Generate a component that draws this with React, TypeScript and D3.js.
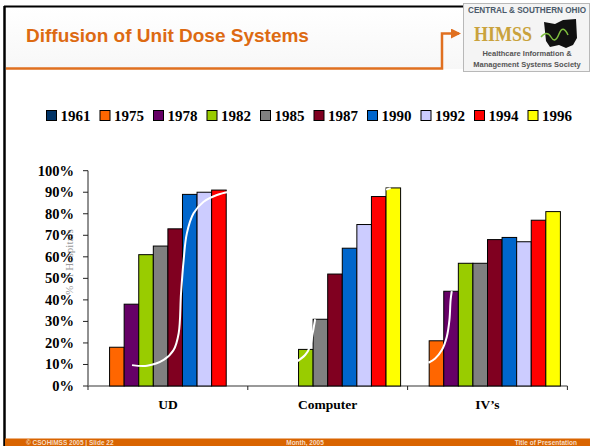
import React from "react";
import * as d3 from "d3";

const categories = ["UD", "Computer", "IV\u2019s"];
const years = ["1961", "1975", "1978", "1982", "1985", "1987", "1990", "1992", "1994", "1996"];
const colors = ["#003366", "#FF6600", "#660066", "#99CC00", "#808080", "#800020", "#0066CC", "#CCCCFF", "#FF0000", "#FFFF00"];
const udValues = [null, 18, 38, 61, 65, 73, 89, 90, 91, null];
const computerValues = [null, null, null, 17, 31, 52, 64, 75, 88, 92];
const ivValues = [null, 21, 44, 57, 57, 68, 69, 67, 77, 81];
const seriesValues = [udValues, computerValues, ivValues];
const yTicks = [0, 10, 20, 30, 40, 50, 60, 70, 80, 90, 100];

// white diffusion curves: [slot position within group (bar units), percent]
const udCurve: [number, number][] = [[2.54, 9.7], [3.57, 9.4], [4.71, 12.1], [5.39, 16.7], [5.74, 24.5], [5.9, 43], [6.08, 58.5], [6.3, 70.9], [6.76, 80.2], [7.45, 85.6], [8.36, 88.7], [9.23, 90.2]];
const computerCurveA: [number, number][] = [[2.88, 11.3], [3.45, 14.4], [3.79, 18.3], [3.97, 24.5], [4.14, 31]];
const computerCurveB: [number, number][] = [[9.0, 91.2], [9.32, 91.9]];
const ivCurve: [number, number][] = [[0.95, 10.8], [1.41, 12.8], [1.87, 16.7], [2.21, 22.9], [2.39, 30.7], [2.47, 40], [2.55, 44.1]];
const curves: { cat: number; pts: [number, number][] }[] = [
  { cat: 0, pts: udCurve },
  { cat: 1, pts: computerCurveA },
  { cat: 1, pts: computerCurveB },
  { cat: 2, pts: ivCurve },
];

const W = 590, H = 446;
const serif = "'Liberation Serif', 'Times New Roman', serif";
const sans = "'Liberation Sans', Arial, sans-serif";

export default function App() {
  const x0 = d3.scaleBand<string>().domain(categories).range([88, 567.4]).padding(0);
  const inner = 7;
  const x1 = d3.scaleBand<string>().domain(years).range([inner, x0.bandwidth() - inner]).padding(0);
  const slot = d3.scaleLinear().domain([0, years.length]).range([inner, x0.bandwidth() - inner]);
  const y = d3.scaleLinear().domain([0, 100]).range([386, 170.7]);
  const line = d3.line<[number, number]>().curve(d3.curveCatmullRom.alpha(0.5));

  const legendX = (i: number) => 46 + i * 53.5;

  return (
    <svg width={W} height={H} style={{ position: "absolute", left: 0, top: 0, background: "#fff" }}>
      <defs>
        <linearGradient id="hdr" x1="0" y1="0" x2="0" y2="1">
          <stop offset="0" stopColor="#ffffff" />
          <stop offset="1" stopColor="#f7f7f7" />
        </linearGradient>
        <marker id="arr" viewBox="0 0 10 10" refX="8" refY="5" markerWidth="4" markerHeight="4" orient="auto">
          <path d="M0,0 L10,5 L0,10 z" fill="#E07020" />
        </marker>
      </defs>
      <rect x={0} y={0} width={W} height={H} fill="#fff" />
      <rect x={5} y={7} width={W - 5} height={62} fill="url(#hdr)" />
      {/* frame */}
      <line x1={4.5} y1={6} x2={4.5} y2={H} stroke="#000" strokeWidth={2.5} />
      <line x1={4} y1={6.5} x2={W} y2={6.5} stroke="#000" strokeWidth={2} />
      {/* title */}
      <text x={26} y={41.5} fontFamily={sans} fontWeight="bold" fontSize={19} fill="#DD6A12">
        Diffusion of Unit Dose Systems
      </text>
      {/* connector */}
      <path d="M6,68.5 H442 V33.5 H459" fill="none" stroke="#E07020" strokeWidth={2.5} markerEnd="url(#arr)" />
      {/* logo */}
      <g>
        <rect x={463.5} y={3.5} width={126} height={68} fill="#f4f4f4" stroke="#b8b8b8" />
        <text x={527} y={13} textAnchor="middle" fontFamily={sans} fontWeight="bold" fontSize={8.5} fill="#4a5a6a" textLength={118} lengthAdjust="spacingAndGlyphs">CENTRAL &amp; SOUTHERN OHIO</text>
        <text x={474} y={41} fontFamily={serif} fontWeight="bold" fontSize={22} fill="#C9A23C" textLength={58} lengthAdjust="spacingAndGlyphs">HIMSS</text>
        <path d="M544,22 L555,24 L563,20 L576,19 L577,38 L573,45 L566,48 L559,45 L550,47 L546,41 Z" fill="#111" />
        <path d="M541,37 Q547,30 551,37 T559,34 T568,35" fill="none" stroke="#7fbf3f" strokeWidth={1.5} />
        <text x={527} y={56} textAnchor="middle" fontFamily={sans} fontWeight="bold" fontSize={7.5} fill="#555">Healthcare Information &amp;</text>
        <text x={527} y={67} textAnchor="middle" fontFamily={sans} fontWeight="bold" fontSize={7.5} fill="#555">Management Systems Society</text>
      </g>

      {/* legend */}
      {years.map((yr, i) => (
        <g key={yr}>
          <rect x={legendX(i) + 0.5} y={110.5} width={10} height={10} fill={colors[i]} stroke="#000" strokeWidth={1} />
          <text x={legendX(i) + 14.5} y={120.5} fontFamily={serif} fontWeight="bold" fontSize={15} fill="#000">{yr}</text>
        </g>
      ))}

      {/* y axis title */}
      <text transform="translate(73,262) rotate(-90)" textAnchor="middle" fontFamily={serif} fontSize={11} fill="#9a9a9a">% of Hospitals</text>

      {/* y axis */}
      <line x1={88} y1={y(100)} x2={88} y2={y(0)} stroke="#222" strokeWidth={1} />
      {yTicks.map((t) => (
        <g key={t}>
          <line x1={83} y1={y(t)} x2={88} y2={y(t)} stroke="#222" strokeWidth={1} />
          <text x={74} y={y(t) + 5} textAnchor="end" fontFamily={serif} fontWeight="bold" fontSize={14.5} fill="#000">{t}%</text>
        </g>
      ))}

      {/* x axis */}
      <line x1={88} y1={y(0)} x2={x0.range()[1]} y2={y(0)} stroke="#777" strokeWidth={1.5} />
      {[...categories.map((c) => x0(c)!), x0.range()[1]].map((xv, i) => (
        <line key={i} x1={xv} y1={y(0)} x2={xv} y2={y(0) + 4} stroke="#222" strokeWidth={1} />
      ))}

      {/* bars */}
      {categories.map((c, ci) => (
        <g key={c} transform={`translate(${x0(c)},0)`}>
          {years.map((yr, si) => {
            const v = seriesValues[ci][si];
            if (v == null) return null;
            return (
              <rect key={yr} x={x1(yr)} y={y(v)} width={x1.bandwidth()} height={y(0) - y(v)} fill={colors[si]} stroke="#000" strokeWidth={1} />
            );
          })}
        </g>
      ))}

      {/* white curves */}
      {curves.map((cv, i) => (
        <path
          key={i}
          d={line(cv.pts.map(([s, v]) => [x0(categories[cv.cat])! + slot(s), y(v)] as [number, number])) || ""}
          fill="none"
          stroke="#fff"
          strokeWidth={2}
        />
      ))}

      {/* category labels */}
      {categories.map((c) => (
        <text key={c} x={x0(c)! + x0.bandwidth() / 2} y={409} textAnchor="middle" fontFamily={serif} fontWeight="bold" fontSize={13.5} fill="#000">{c}</text>
      ))}

      {/* footer */}
      <rect x={5} y={438.5} width={W - 5} height={H - 438.5} fill="#D96400" />
      <text x={26} y={444.5} fontFamily={sans} fontWeight="bold" fontSize={6.5} fill="#f6dcc4">© CSOHIMSS 2005  |  Slide 22</text>
      <text x={305} y={444.5} textAnchor="middle" fontFamily={sans} fontWeight="bold" fontSize={6.5} fill="#f6dcc4">Month, 2005</text>
      <text x={577} y={444.5} textAnchor="end" fontFamily={sans} fontWeight="bold" fontSize={6.5} fill="#f6dcc4">Title of Presentation</text>
    </svg>
  );
}
